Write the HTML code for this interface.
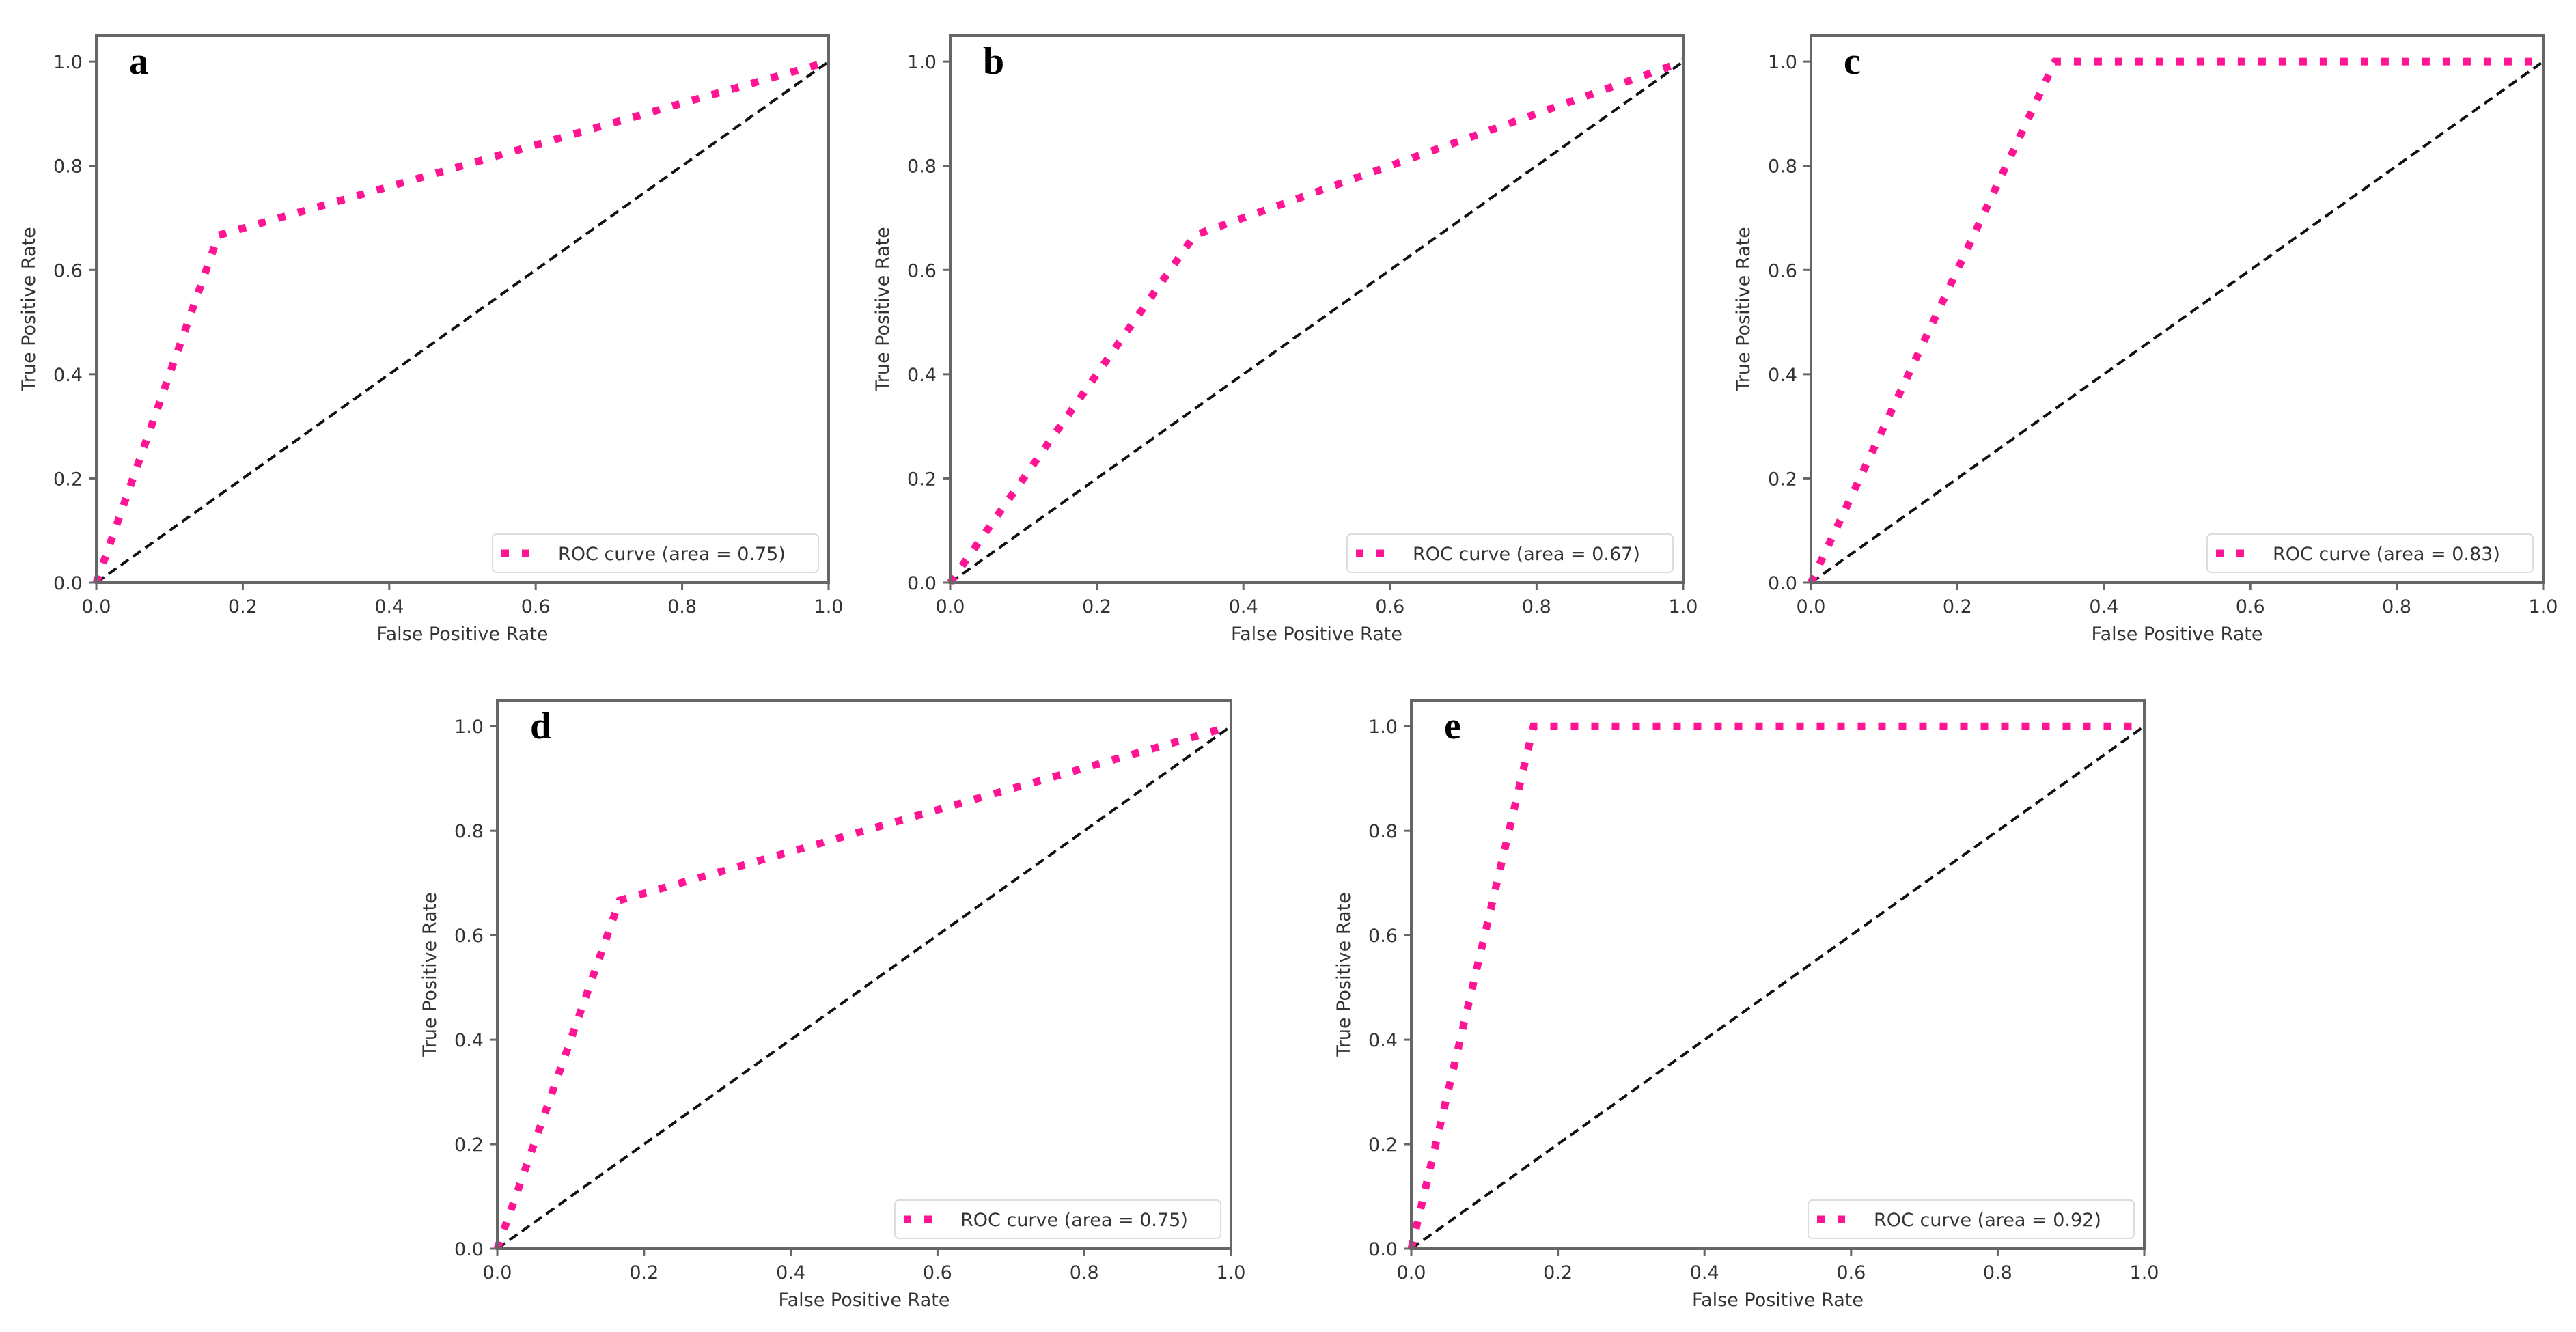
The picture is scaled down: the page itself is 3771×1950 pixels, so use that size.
<!DOCTYPE html>
<html><head><meta charset="utf-8"><style>
html,body{margin:0;padding:0;background:#fff;}
svg{display:block;}
</style></head><body>
<svg id="fig" xmlns="http://www.w3.org/2000/svg" width="3771" height="1950" viewBox="0 0 3771 1950">
<rect width="3771" height="1950" fill="#fff"/>
</svg>
<script>
const panelLetters = ["a","b","c","d","e"];
const fprA = [0, 0.1667, 1];
const tprA = [0, 0.6667, 1];
const fprB = [0, 0.3333, 1];
const tprB = [0, 0.6667, 1];
const fprC = [0, 0.3333, 1];
const tprC = [0, 1, 1];
const fprD = [0, 0.1667, 1];
const tprD = [0, 0.6667, 1];
const fprE = [0, 0.1667, 1];
const tprE = [0, 1, 1];
const aucValues = ["0.75","0.67","0.83","0.75","0.92"];
const tickValues = [0, 0.2, 0.4, 0.6, 0.8, 1.0];
const tickLabels = ["0.0","0.2","0.4","0.6","0.8","1.0"];
const chanceX = [0, 1];
const chanceY = [0, 1];

const fprs = [fprA, fprB, fprC, fprD, fprE];
const tprs = [tprA, tprB, tprC, tprD, tprE];
const layout = [
  {l:141, r:1213, t:52, b:853},
  {l:1391, r:2464, t:52, b:853},
  {l:2651, r:3723, t:52, b:853},
  {l:728, r:1802, t:1025, b:1828},
  {l:2066, r:3139, t:1025, b:1828}
];
const NS = "http://www.w3.org/2000/svg";
const svg = document.getElementById("fig");
const FONT = "'DejaVu Sans','Liberation Sans',sans-serif";
function mk(tag, attrs, parent){
  const e = document.createElementNS(NS, tag);
  for (const k in attrs) e.setAttribute(k, attrs[k]);
  parent.appendChild(e);
  return e;
}
layout.forEach((L, i) => {
  const g = mk("g", {}, svg);
  
  
  const ymax = 1.05;
  const sx = v => L.l + v * (L.r - L.l);
  const sy = v => L.b - v / ymax * (L.b - L.t);
  const cl = mk("polyline", {points: chanceX.map((x,k)=>sx(x)+","+sy(chanceY[k])).join(" "), fill:"none", stroke:"#111", "stroke-width":4, "stroke-dasharray":"14 8"}, g);
  
  
  const rl = mk("polyline", {points: fprs[i].map((x,k)=>sx(x)+","+sy(tprs[i][k])).join(" "), fill:"none", stroke:"#ff1493", "stroke-width":11, "stroke-dasharray":"11 19"}, g);
  
  
  const fr = mk("rect", {x:L.l, y:L.t, width:L.r-L.l, height:L.b-L.t, fill:"none", stroke:"#666", "stroke-width":4}, g);
  
  
  tickValues.forEach((v, k) => {
    const xt = mk("line", {x1:sx(v), x2:sx(v), y1:L.b, y2:L.b+11, stroke:"#666", "stroke-width":3}, g);
    
    
    const xl = mk("text", {x:sx(v), y:L.b+44, "text-anchor":"middle", "font-family":FONT, "font-size":27, fill:"#333"}, g);
    xl.textContent = tickLabels[k];
    
    
    const yt = mk("line", {x1:L.l-11, x2:L.l, y1:sy(v), y2:sy(v), stroke:"#666", "stroke-width":3}, g);
    
    
    const yl = mk("text", {x:L.l-20, y:sy(v)+10, "text-anchor":"end", "font-family":FONT, "font-size":27, fill:"#333"}, g);
    yl.textContent = tickLabels[k];
    
    
  });
  const xa = mk("text", {x:(L.l+L.r)/2, y:L.b+84, "text-anchor":"middle", "font-family":FONT, "font-size":27, fill:"#333"}, g);
  xa.textContent = "False Positive Rate";
  
  
  const cy = (L.t+L.b)/2, cx = L.l-90;
  const ya = mk("text", {x:cx, y:cy, "text-anchor":"middle", "font-family":FONT, "font-size":27, fill:"#333", transform:`rotate(-90 ${cx} ${cy})`}, g);
  ya.textContent = "True Positive Rate";
  
  
  const lt = mk("text", {x:L.l+48, y:L.t+56, "font-family":"'Liberation Serif',serif", "font-weight":"bold", "font-size":56, fill:"#000"}, g);
  lt.textContent = panelLetters[i];
  
  
  const lw = 477, lh = 56, lx = L.r-15-lw, ly = L.b-15-lh;
  const lg = mk("g", {}, g);
  
  
  mk("rect", {x:lx, y:ly, width:lw, height:lh, rx:6, fill:"#fff", "fill-opacity":0.85, stroke:"#ddd", "stroke-width":2}, lg);
  const lm = mk("line", {x1:lx+13, x2:lx+58, y1:ly+lh/2, y2:ly+lh/2, stroke:"#ff1493", "stroke-width":11, "stroke-dasharray":"11 19"}, lg);
  
  
  const ltx = mk("text", {x:lx+96, y:ly+lh/2+10, "font-family":FONT, "font-size":27, fill:"#333"}, lg);
  ltx.textContent = "ROC curve (area = " + aucValues[i] + ")";
  
  
});
</script>
</body></html>
